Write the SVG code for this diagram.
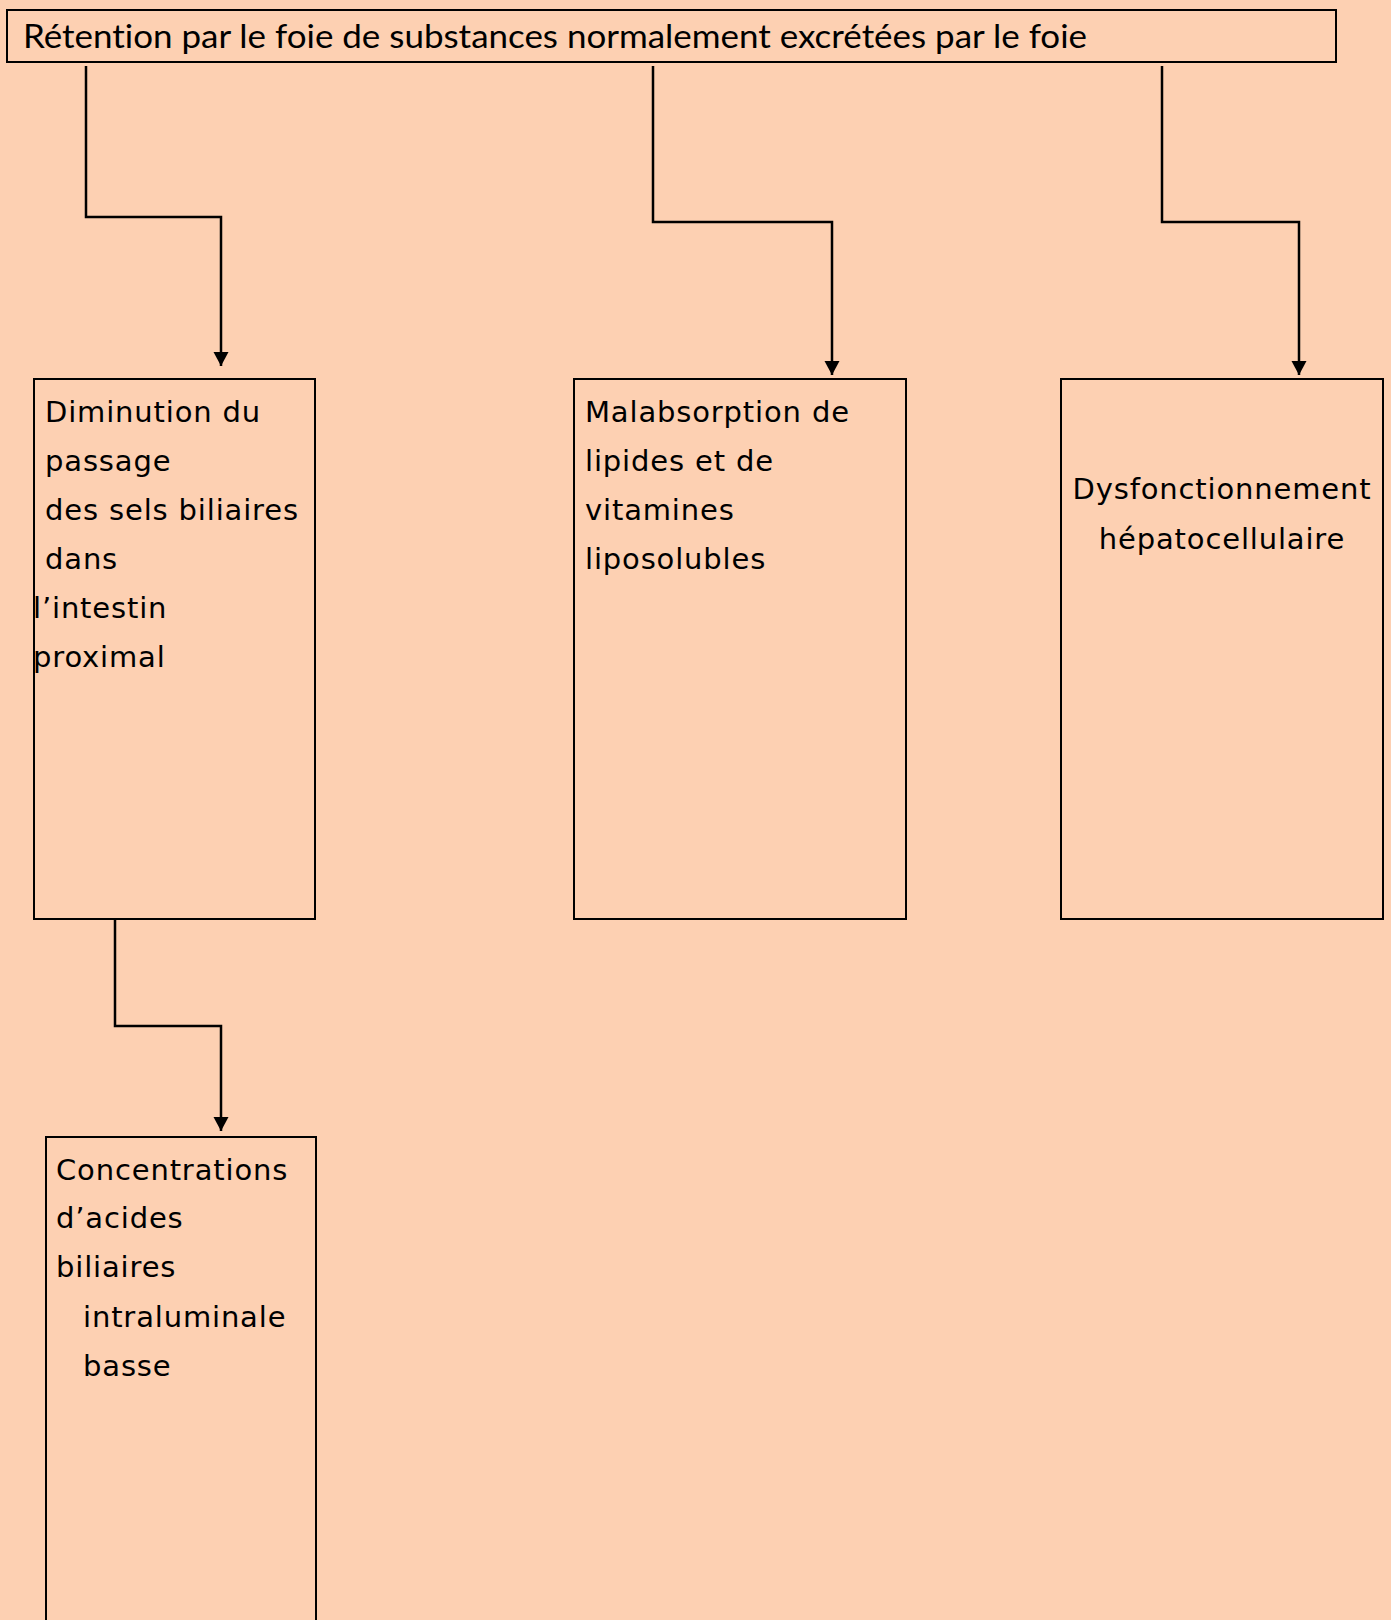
<svg xmlns="http://www.w3.org/2000/svg" width="1391" height="1620" viewBox="0 0 1391 1620">
<style>
.box{fill:#FDD0B2;stroke:#000;stroke-width:2}
.t{font-family:"DejaVu Sans","Verdana",sans-serif;font-size:29px;letter-spacing:0.85px;fill:#000}
.h{font-family:"Lato","Liberation Sans",sans-serif;font-size:33px;fill:#000;font-variant-ligatures:none;font-feature-settings:"liga" 0,"clig" 0,"dlig" 0}
.c{fill:none;stroke:#000;stroke-width:2.5}
</style>
<defs>
<marker id="arr" markerUnits="userSpaceOnUse" markerWidth="16" markerHeight="16" refX="14" refY="7.5" orient="auto">
<path d="M0,0 L14,7.5 L0,15 Z" fill="#000"/>
</marker>
</defs>
<rect width="1391" height="1620" fill="#FDD0B2"/>
<g id="connectors">
<path class="c" d="M86,66 V217 H221 V366" marker-end="url(#arr)"/>
<path class="c" d="M653,66 V222 H832 V375" marker-end="url(#arr)"/>
<path class="c" d="M1162,66 V222 H1299 V375" marker-end="url(#arr)"/>
<path class="c" d="M115,920 V1026 H221 V1131" marker-end="url(#arr)"/>
</g>
<g id="n0">
<rect class="box" x="7" y="10" width="1329" height="52"/>
<text class="h" x="23" y="48" textLength="1064" lengthAdjust="spacingAndGlyphs">Rétention par le foie de substances normalement excrétées par le foie</text>
</g>
<g id="n1">
<rect class="box" x="34" y="379" width="281" height="540"/>
<text class="t" x="45" y="422">Diminution du</text>
<text class="t" x="45" y="471">passage</text>
<text class="t" x="45" y="520">des sels biliaires</text>
<text class="t" x="45" y="569">dans</text>
<text class="t" x="33" y="618">l’intestin</text>
<text class="t" x="33" y="667">proximal</text>
</g>
<g id="n2">
<rect class="box" x="574" y="379" width="332" height="540"/>
<text class="t" x="585" y="422">Malabsorption de</text>
<text class="t" x="585" y="471">lipides et de</text>
<text class="t" x="585" y="520">vitamines</text>
<text class="t" x="585" y="569">liposolubles</text>
</g>
<g id="n3">
<rect class="box" x="1061" y="379" width="322" height="540"/>
<text class="t" x="1222" y="499" text-anchor="middle">Dysfonctionnement</text>
<text class="t" x="1222" y="549" text-anchor="middle">hépatocellulaire</text>
</g>
<g id="n4">
<rect class="box" x="46" y="1137" width="270" height="500"/>
<text class="t" x="56" y="1180">Concentrations</text>
<text class="t" x="56" y="1228">d’acides</text>
<text class="t" x="56" y="1277">biliaires</text>
<text class="t" x="83" y="1327">intraluminale</text>
<text class="t" x="83" y="1376">basse</text>
</g>
</svg>
